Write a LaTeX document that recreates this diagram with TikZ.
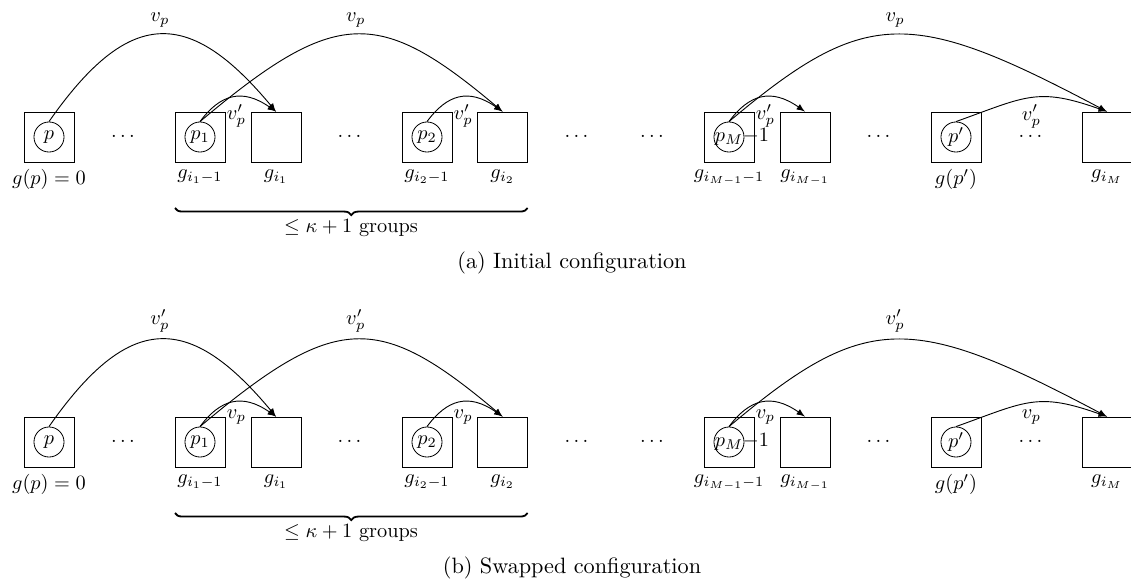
\documentclass[tikz,border=0pt]{standalone}
\usetikzlibrary{decorations.pathreplacing,arrows}
\hfuzz=200pt
\hbadness=10000
\newcommand\ctext[1]{\makebox[0pt]{\hbox to 14pt{\hfil$#1$\hfil}}}
\tikzset{
  grp/.style={draw, rectangle, minimum size=24.6pt, inner sep=0pt},
  pnode/.style={draw, circle, minimum size=14.8pt, inner sep=0pt},
  glbl/.style={anchor=north, inner sep=3.33pt},
  arr/.style={-latex, line width=0.45pt},
  brc/.style={decorate, decoration={brace, mirror, amplitude=3.5pt}, line width=0.9pt},
  captxt/.style={font=\fontsize{10.95}{13.6}\selectfont}
}
\newcommand\panel[5]{%
  \begin{scope}[shift={(0,#2)}, name prefix=#1-]
    % boxes
    \node[grp] (g0) at (49,137) {};
    \node[grp] (g1) at (200,137) {};
    \node[grp] (h1) at (276,137) {};
    \node[grp] (g2) at (427,137) {};
    \node[grp] (h2) at (502.6,137) {};
    \node[grp] (g3) at (729,137) {};
    \node[grp] (h3) at (805,137) {};
    \node[grp] (g4) at (956,137) {};
    \node[grp] (h4) at (1107,137) {};
    % circles
    \node[pnode] (c0) at (g0.center) {\ctext{p}};
    \node[pnode] (c1) at (g1.center) {\ctext{p_1}};
    \node[pnode] (c2) at (g2.center) {\ctext{p_2}};
    \node[pnode] (c3) at (g3.center) {\ctext{p_M-1}};
    \node[pnode] (c4) at (g4.center) {\ctext{p'}};
    % dots
    \node (d1) at (123,137) {$\cdots$};
    \node (d2) at (349.5,137) {$\cdots$};
    \node (d3) at (576.5,137) {$\cdots$};
    \node (d4) at (652,137) {$\cdots$};
    \node (d5) at (878.5,137) {$\cdots$};
    \node (d6) at (1030.5,137) {$\cdots$};
    % labels below boxes
    \node[glbl] (lg0) at (g0.south) {$g(p)=0$};
    \node[glbl] (lg1) at (g1.south) {$g_{i_1-1}$};
    \node[glbl] (lh1) at (h1.south) {$g_{i_1}$};
    \node[glbl] (lg2) at (g2.south) {$g_{i_2-1}$};
    \node[glbl] (lh2) at (h2.south) {$g_{i_2}$};
    \node[glbl] (lg3) at (g3.south) {$g_{i_{M-1}-1}$};
    \node[glbl] (lh3) at (h3.south) {$g_{i_{M-1}}$};
    \node[glbl] (lg4) at (g4.south) {$g(p')$};
    \node[glbl] (lh4) at (h4.south) {$g_{i_M}$};
    % brace
    \coordinate (bl) at (175,208);
    \coordinate (br) at (527.6,208);
    \draw[brc] (bl) -- (br);
    \node (grptxt) at (351,228) {$\leq \kappa+1$ groups};
    % big arcs
    \draw[arr] (c0.north) .. controls +(80,-114.5) and +(-87,-104.5) .. node[above] {$#3$} (h1.north);
    \draw[arr] (c1.north) .. controls +(136,-114.5) and +(-124,-104.5) .. node[above] {$#3$} (h2.north);
    \draw[arr] (c3.north) .. controls +(136,-114.5) and +(-197,-104.5) .. node[above] {$#3$} (h4.north);
    % small arcs
    \draw[arr] (c1.north) .. controls +(20,-27) and +(-34,-24) .. node[below, pos=0.55] {$#4$} (h1.north);
    \draw[arr] (c2.north) .. controls +(20,-27) and +(-34,-24) .. node[below, pos=0.55] {$#4$} (h2.north);
    \draw[arr] (c3.north) .. controls +(20,-27) and +(-34,-24) .. node[below, pos=0.55] {$#4$} (h3.north);
    \draw[arr] (c4.north) .. controls +(70,-25) and +(-70,-25) .. node[below] {$#4$} (h4.north);
    % caption
    \node[captxt] (caption) at (572,263) {#5};
  \end{scope}}
\begin{document}
\begin{tikzpicture}[x=0.4926pt, y=-0.4926pt]
  \useasboundingbox (0,0) rectangle (1131,579);
  \panel{a}{0}{v_p}{v'_p}{(a) Initial configuration}
  \panel{b}{305}{v'_p}{v_p}{(b) Swapped configuration}
\end{tikzpicture}
\end{document}
